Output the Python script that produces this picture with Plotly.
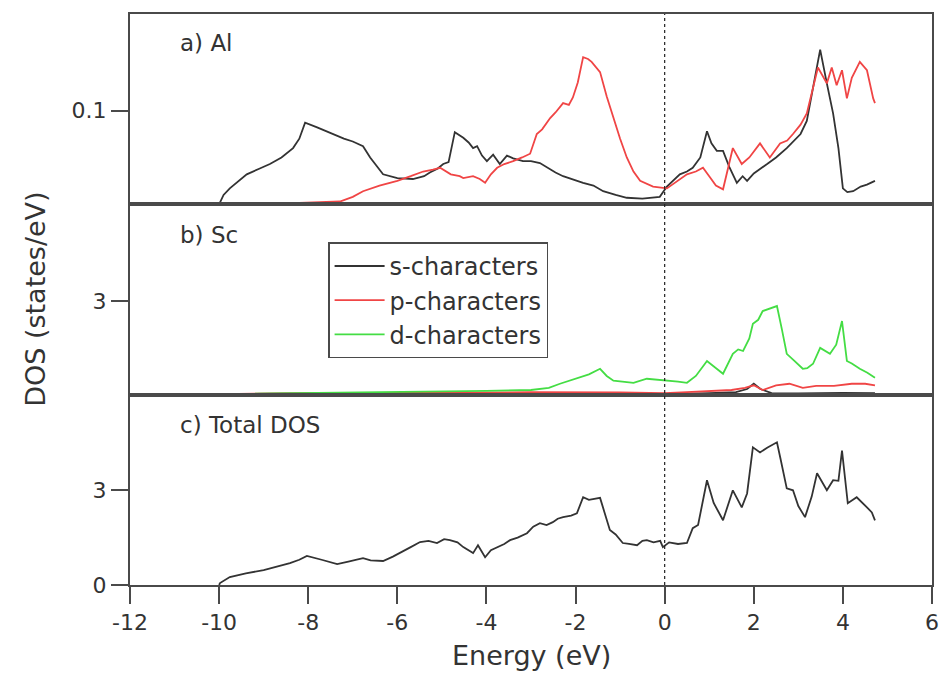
import plotly.graph_objects as go
from plotly.subplots import make_subplots

# ---- Panel a) Al ----
al_s_E = [-10.0, -9.9, -9.76, -9.5, -9.38, -9.1, -8.86, -8.6, -8.34, -8.2, -8.07, -7.8, -7.51, -7.2, -7.0,
          -6.77, -6.61, -6.45, -6.32, -6.0, -5.65, -5.4, -5.27, -5.1, -4.97, -4.85, -4.71, -4.52, -4.4, -4.3,
          -4.21, -4.1, -3.99, -3.85, -3.7, -3.54, -3.4, -3.18, -3.0, -2.8, -2.6, -2.45, -2.28, -2.1, -1.83,
          -1.6, -1.38, -1.1, -0.85, -0.5, -0.11, 0.05, 0.34, 0.5, 0.63, 0.8, 0.95, 1.05, 1.17, 1.31, 1.45,
          1.62, 1.75, 1.85, 2.0, 2.3, 2.5, 2.74, 2.9, 3.05, 3.19, 3.35, 3.49, 3.64, 3.78, 3.9, 4.0, 4.1,
          4.23, 4.4, 4.54, 4.72]
al_s_V = [0.000, 0.010, 0.017, 0.027, 0.032, 0.038, 0.043, 0.050, 0.060, 0.070, 0.087, 0.082, 0.076, 0.070,
          0.067, 0.062, 0.050, 0.040, 0.032, 0.028, 0.027, 0.030, 0.034, 0.038, 0.043, 0.045, 0.077, 0.071,
          0.066, 0.060, 0.062, 0.052, 0.046, 0.053, 0.043, 0.052, 0.049, 0.046, 0.046, 0.044, 0.038, 0.034,
          0.030, 0.027, 0.023, 0.020, 0.014, 0.010, 0.007, 0.006, 0.008, 0.019, 0.032, 0.035, 0.039, 0.050,
          0.078, 0.065, 0.057, 0.057, 0.040, 0.023, 0.030, 0.025, 0.033, 0.043, 0.050, 0.060, 0.068, 0.075,
          0.089, 0.130, 0.165, 0.129, 0.097, 0.060, 0.017, 0.013, 0.014, 0.019, 0.021, 0.025]

al_p_E = [-9.1, -8.5, -8.0, -7.29, -7.0, -6.77, -6.4, -6.0, -5.7, -5.42, -5.2, -5.04, -4.8, -4.6, -4.52,
          -4.3, -4.15, -4.03, -3.9, -3.76, -3.6, -3.4, -3.2, -3.02, -2.87, -2.75, -2.57, -2.45, -2.28, -2.15,
          -2.06, -1.95, -1.83, -1.72, -1.64, -1.45, -1.3, -1.15, -1.0, -0.85, -0.7, -0.55, -0.26, 0.05, 0.3,
          0.5, 0.7, 0.86, 1.0, 1.15, 1.31, 1.53, 1.73, 1.9, 2.14, 2.36, 2.59, 2.75, 2.88, 3.05, 3.19, 3.3,
          3.44, 3.64, 3.75, 3.86, 3.98, 4.09, 4.2, 4.38, 4.54, 4.68, 4.72]
al_p_V = [0.000, 0.001, 0.002, 0.003, 0.008, 0.014, 0.020, 0.025, 0.030, 0.035, 0.037, 0.039, 0.032, 0.030,
          0.028, 0.030, 0.027, 0.023, 0.032, 0.039, 0.043, 0.046, 0.050, 0.054, 0.075, 0.080, 0.092, 0.098,
          0.108, 0.106, 0.114, 0.130, 0.157, 0.155, 0.152, 0.141, 0.115, 0.092, 0.070, 0.050, 0.035, 0.025,
          0.019, 0.017, 0.025, 0.032, 0.035, 0.039, 0.030, 0.020, 0.016, 0.060, 0.043, 0.050, 0.065, 0.050,
          0.065, 0.068, 0.075, 0.085, 0.097, 0.120, 0.146, 0.129, 0.146, 0.127, 0.143, 0.113, 0.135, 0.152,
          0.143, 0.113, 0.108]

# ---- Panel b) Sc ----
sc_s_E = [-10.0, -8.0, -6.0, -4.0, -2.0, 0.0, 1.0, 1.6, 1.85, 2.0, 2.15, 2.4, 3.0, 4.0, 4.72]
sc_s_V = [0.02, 0.05, 0.06, 0.06, 0.04, 0.02, 0.05, 0.08, 0.18, 0.35, 0.18, 0.05, 0.04, 0.06, 0.05]

sc_p_E = [-10.0, -8.0, -5.0, -3.0, -1.0, 0.0, 0.5, 1.0, 1.5, 1.8, 2.0, 2.2, 2.5, 2.8, 3.1, 3.4, 3.8, 4.2,
          4.5, 4.72]
sc_p_V = [0.02, 0.05, 0.06, 0.08, 0.07, 0.05, 0.08, 0.12, 0.15, 0.22, 0.30, 0.15, 0.30, 0.35, 0.22, 0.28,
          0.28, 0.35, 0.35, 0.30]

sc_d_E = [-10.0, -8.0, -6.0, -4.0, -3.0, -2.6, -2.35, -2.0, -1.7, -1.45, -1.3, -1.15, -0.9, -0.7, -0.4,
          -0.1, 0.05, 0.3, 0.5, 0.7, 0.95, 1.1, 1.31, 1.53, 1.65, 1.76, 1.9, 1.98, 2.1, 2.2, 2.35, 2.52,
          2.63, 2.74, 2.9, 3.1, 3.2, 3.33, 3.49, 3.6, 3.71, 3.85, 3.98, 4.09, 4.2, 4.38, 4.55, 4.72]
sc_d_V = [0.02, 0.05, 0.08, 0.12, 0.15, 0.22, 0.35, 0.50, 0.65, 0.83, 0.60, 0.45, 0.40, 0.38, 0.51, 0.48,
          0.45, 0.42, 0.38, 0.60, 1.08, 0.90, 0.67, 1.31, 1.45, 1.40, 1.80, 2.27, 2.40, 2.68, 2.75, 2.84,
          2.10, 1.31, 1.10, 0.83, 0.85, 0.99, 1.50, 1.40, 1.31, 1.60, 2.36, 1.08, 1.00, 0.83, 0.70, 0.54]

# ---- Panel c) Total DOS ----
tot_E = [-10.0, -9.98, -9.76, -9.4, -9.0, -8.7, -8.41, -8.2, -8.03, -7.7, -7.35, -7.1, -6.9, -6.77, -6.6,
         -6.32, -6.1, -5.94, -5.7, -5.49, -5.3, -5.11, -4.95, -4.82, -4.65, -4.52, -4.4, -4.3, -4.19, -4.1,
         -4.03, -3.9, -3.76, -3.6, -3.47, -3.3, -3.09, -2.95, -2.8, -2.65, -2.51, -2.4, -2.28, -2.1, -1.97,
         -1.83, -1.7, -1.55, -1.45, -1.35, -1.23, -1.1, -0.94, -0.8, -0.62, -0.5, -0.4, -0.25, -0.1, -0.04,
         0.1, 0.3, 0.5, 0.63, 0.75, 0.95, 1.1, 1.31, 1.45, 1.53, 1.73, 1.85, 1.98, 2.14, 2.3, 2.52, 2.6,
         2.74, 2.88, 3.0, 3.15, 3.3, 3.42, 3.55, 3.64, 3.78, 3.9, 3.98, 4.05, 4.11, 4.31, 4.45, 4.54, 4.65,
         4.72]
tot_V = [0.00, 0.06, 0.25, 0.37, 0.47, 0.58, 0.69, 0.80, 0.92, 0.80, 0.66, 0.74, 0.80, 0.85, 0.78, 0.76,
         0.90, 1.01, 1.20, 1.36, 1.40, 1.33, 1.45, 1.42, 1.35, 1.20, 1.10, 1.01, 1.26, 1.05, 0.88, 1.10,
         1.20, 1.30, 1.42, 1.50, 1.64, 1.85, 1.96, 1.90, 1.99, 2.10, 2.15, 2.20, 2.27, 2.78, 2.70, 2.75,
         2.76, 2.30, 1.74, 1.60, 1.33, 1.30, 1.26, 1.40, 1.42, 1.35, 1.40, 1.20, 1.35, 1.30, 1.33, 1.80,
         1.90, 3.32, 2.60, 2.05, 2.70, 3.00, 2.46, 2.90, 4.36, 4.20, 4.35, 4.52, 4.00, 3.06, 3.00, 2.50,
         2.15, 2.80, 3.54, 3.20, 3.00, 3.32, 3.30, 4.26, 3.40, 2.59, 2.78, 2.60, 2.46, 2.30, 2.05]

x_ticks = [-12, -10, -8, -6, -4, -2, 0, 2, 4, 6]
x_tick_text = ["-12", "-10", "-8", "-6", "-4", "-2", "0", "2", "4", "6"]
panel_labels = ["a) Al", "b) Sc", "c) Total DOS"]
legend_names = ["s-characters", "p-characters", "d-characters"]

C_S = "#333333"
C_P = "#f04545"
C_D = "#44dd44"
FRAME = "#4a4a4a"
FONT = "DejaVu Sans, Liberation Sans, Arial, sans-serif"
TXT = "#333333"

fig = make_subplots(rows=3, cols=1, shared_xaxes=True, vertical_spacing=0)

lw = 1.8
fig.add_trace(go.Scatter(x=al_s_E, y=al_s_V, mode="lines", line=dict(color=C_S, width=lw),
                         showlegend=False), row=1, col=1)
fig.add_trace(go.Scatter(x=al_p_E, y=al_p_V, mode="lines", line=dict(color=C_P, width=lw),
                         showlegend=False), row=1, col=1)
fig.add_trace(go.Scatter(x=sc_s_E, y=sc_s_V, mode="lines", line=dict(color=C_S, width=lw),
                         name=legend_names[0]), row=2, col=1)
fig.add_trace(go.Scatter(x=sc_p_E, y=sc_p_V, mode="lines", line=dict(color=C_P, width=lw),
                         name=legend_names[1]), row=2, col=1)
fig.add_trace(go.Scatter(x=sc_d_E, y=sc_d_V, mode="lines", line=dict(color=C_D, width=lw),
                         name=legend_names[2]), row=2, col=1)
fig.add_trace(go.Scatter(x=tot_E, y=tot_V, mode="lines", line=dict(color=C_S, width=lw),
                         showlegend=False), row=3, col=1)

axis_common = dict(showline=True, linecolor=FRAME, linewidth=2, mirror=True, showgrid=False,
                   zeroline=False, automargin=False)
for r in (1, 2, 3):
    fig.update_xaxes(range=[-12, 6], row=r, col=1, **axis_common,
                     ticks="outside" if r == 3 else "", ticklen=17, tickwidth=1.5, tickcolor=FRAME,
                     tickvals=x_ticks, ticktext=x_tick_text, showticklabels=(r == 3),
                     tickfont=dict(size=22, family=FONT, color=TXT))

ycommon = dict(ticks="outside", ticklen=17, tickwidth=1.5, tickcolor=FRAME,
               tickfont=dict(size=22, family=FONT, color=TXT))
fig.update_yaxes(range=[0, 0.203], tickvals=[0.1], ticktext=["0.1"], row=1, col=1, **axis_common, **ycommon)
fig.update_yaxes(range=[0, 6.1], tickvals=[3], ticktext=["3"], row=2, col=1, **axis_common, **ycommon)
fig.update_yaxes(range=[0, 6.03], tickvals=[0, 3], ticktext=["0", "3"], row=3, col=1, **axis_common, **ycommon)

# dotted Fermi level line
fig.add_shape(type="line", x0=0, x1=0, y0=0, y1=1, xref="x3", yref="paper",
              line=dict(color="#222", width=1.2, dash="dot"))

label_y = [0.949, 0.613, 0.280]
for txt, yy in zip(panel_labels, label_y):
    fig.add_annotation(text=txt, x=0.06, y=yy, xref="paper", yref="paper", xanchor="left",
                       yanchor="middle", showarrow=False, font=dict(size=23, family=FONT, color=TXT))

fig.add_annotation(text="Energy (eV)", x=0.5, y=-0.123, xref="paper", yref="paper", showarrow=False,
                   xanchor="center", yanchor="middle", font=dict(size=27, family=FONT, color=TXT))
fig.add_annotation(text="DOS (states/eV)", x=-0.118, y=0.5, xref="paper", yref="paper", showarrow=False,
                   textangle=-90, xanchor="center", yanchor="middle",
                   font=dict(size=27, family=FONT, color=TXT))

fig.update_layout(
    width=944, height=680,
    margin=dict(l=130, r=12, t=14, b=95),
    paper_bgcolor="white", plot_bgcolor="white",
    legend=dict(x=0.247, y=0.6, xanchor="left", yanchor="top", bgcolor="white",
                bordercolor=FRAME, borderwidth=1.5, font=dict(size=24, family=FONT, color=TXT),
                tracegroupgap=0, itemwidth=50),
)

fig.write_html("out.html")
